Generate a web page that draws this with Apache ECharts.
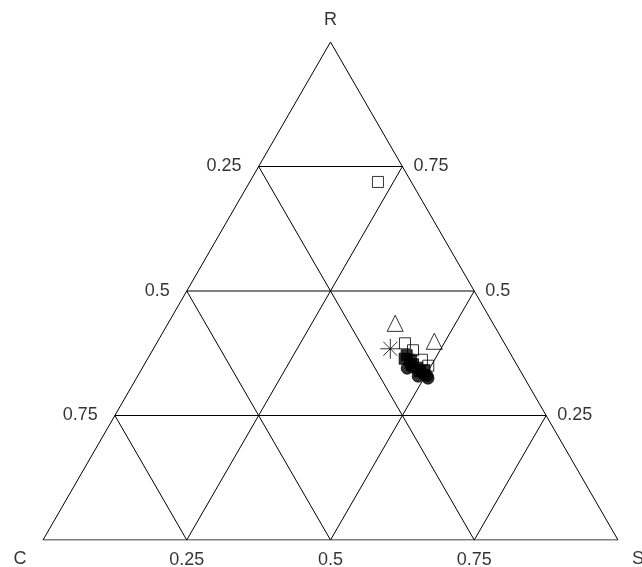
<!DOCTYPE html>
<html>
<head>
<meta charset="utf-8">
<script src="https://cdn.jsdelivr.net/npm/echarts@6/dist/echarts.min.js"></script>
<style>
  html, body { margin: 0; padding: 0; background: #fff; }
  #chart { width: 642px; height: 567px; }
</style>
</head>
<body>
<div id="chart"></div>
<script>
// ternary data, each point is [C, R, S]
const vertexNames = ["C", "R", "S"];
const gridLevels = [0.25, 0.5, 0.75];
const tickLabels = ["0.25", "0.5", "0.75"];

const openSquares = [
  [0.058, 0.719, 0.223],
  [0.173, 0.395, 0.432],
  [0.166, 0.381, 0.453],
  [0.160, 0.362, 0.478],
  [0.155, 0.350, 0.495]
];
const openTriangles = [
  [0.170, 0.435, 0.395],
  [0.120, 0.399, 0.481]
];
const asterisks = [
  [0.204, 0.384, 0.412]
];
const filledSquares = [
  [0.182, 0.371, 0.447],
  [0.189, 0.364, 0.447],
  [0.181, 0.362, 0.457],
  [0.180, 0.353, 0.467],
  [0.176, 0.346, 0.478],
  [0.175, 0.339, 0.486],
  [0.166, 0.341, 0.493]
];
const filledCircles = [
  [0.194, 0.345, 0.461],
  [0.185, 0.349, 0.466],
  [0.183, 0.329, 0.488],
  [0.172, 0.334, 0.494],
  [0.167, 0.330, 0.503],
  [0.168, 0.325, 0.507]
];

const H = Math.sqrt(3) / 2;
function toXY(p) {
  const r = p[1], s = p[2];
  return [s + r / 2, r * H];
}

// triangle outline and inner grid
const lines = [];
lines.push([[1, 0, 0], [0, 0, 1], [0, 1, 0], [1, 0, 0]]);
gridLevels.forEach(function (k) {
  lines.push([[1 - k, k, 0], [0, k, 1 - k]]);   // R = k
  lines.push([[1 - k, 0, k], [0, 1 - k, k]]);   // S = k
  lines.push([[k, 0, 1 - k], [k, 1 - k, 0]]);   // C = k
});

const lineSeries = lines.map(function (pts) {
  return {
    type: "line",
    data: pts.map(toXY),
    symbol: "none",
    silent: true,
    lineStyle: { color: "#000", width: 1 },
    z: 1
  };
});

const font = { fontFamily: "Liberation Sans, Arial, sans-serif", fontSize: 18, color: "#000" };

function textSeries(items, align, offset) {
  return {
    type: "scatter",
    symbolSize: 0,
    silent: true,
    clip: false,
    data: items.map(function (it) { return { value: toXY(it.p), name: it.t }; }),
    label: Object.assign({
      show: true,
      position: "inside",
      formatter: "{b}",
      align: align,
      verticalAlign: "middle",
      offset: offset
    }, font)
  };
}

// left edge: C values, right edge: R values, bottom: S values
const leftLabels = gridLevels.map(function (k, i) {
  return { p: [k, 1 - k, 0], t: tickLabels[i] };
});
const rightLabels = gridLevels.map(function (k, i) {
  return { p: [0, k, 1 - k], t: tickLabels[i] };
});
const bottomLabels = gridLevels.map(function (k, i) {
  return { p: [1 - k, 0, k], t: tickLabels[i] };
});

const asteriskPath = "path://M0,-10L0,10M-10,0L10,0M-7,-7L7,7M-7,7L7,-7";

function pointSeries(data, symbol, size, filled) {
  return {
    type: "scatter",
    data: data.map(toXY),
    symbol: symbol,
    symbolSize: size,
    clip: false,
    itemStyle: filled
      ? { color: "#000", borderColor: "#000", borderWidth: 1 }
      : { color: "rgba(0,0,0,0)", borderColor: "#000", borderWidth: 1 },
    z: 3
  };
}

const chart = echarts.init(document.getElementById("chart"));
chart.setOption({
  animation: false,
  backgroundColor: "#fff",
  grid: { left: 43, right: 24, top: 42, bottom: 27 },
  xAxis: { type: "value", min: 0, max: 1, show: false },
  yAxis: { type: "value", min: 0, max: H, show: false },
  series: lineSeries.concat([
    textSeries(leftLabels, "right", [-17, 0]),
    textSeries(rightLabels, "left", [11, 0]),
    textSeries(bottomLabels, "center", [0, 20]),
    textSeries([{ p: [0, 1, 0], t: vertexNames[1] }], "center", [0, -22]),
    textSeries([{ p: [1, 0, 0], t: vertexNames[0] }], "center", [-23, 19]),
    textSeries([{ p: [0, 0, 1], t: vertexNames[2] }], "left", [14, 19]),
    pointSeries(openSquares, "rect", 11, false),
    pointSeries(openTriangles, "triangle", 16, false),
    pointSeries(asterisks, asteriskPath, 20, false),
    pointSeries(filledSquares, "rect", 11, true),
    pointSeries(filledCircles, "circle", 12, true)
  ])
});
</script>
</body>
</html>
